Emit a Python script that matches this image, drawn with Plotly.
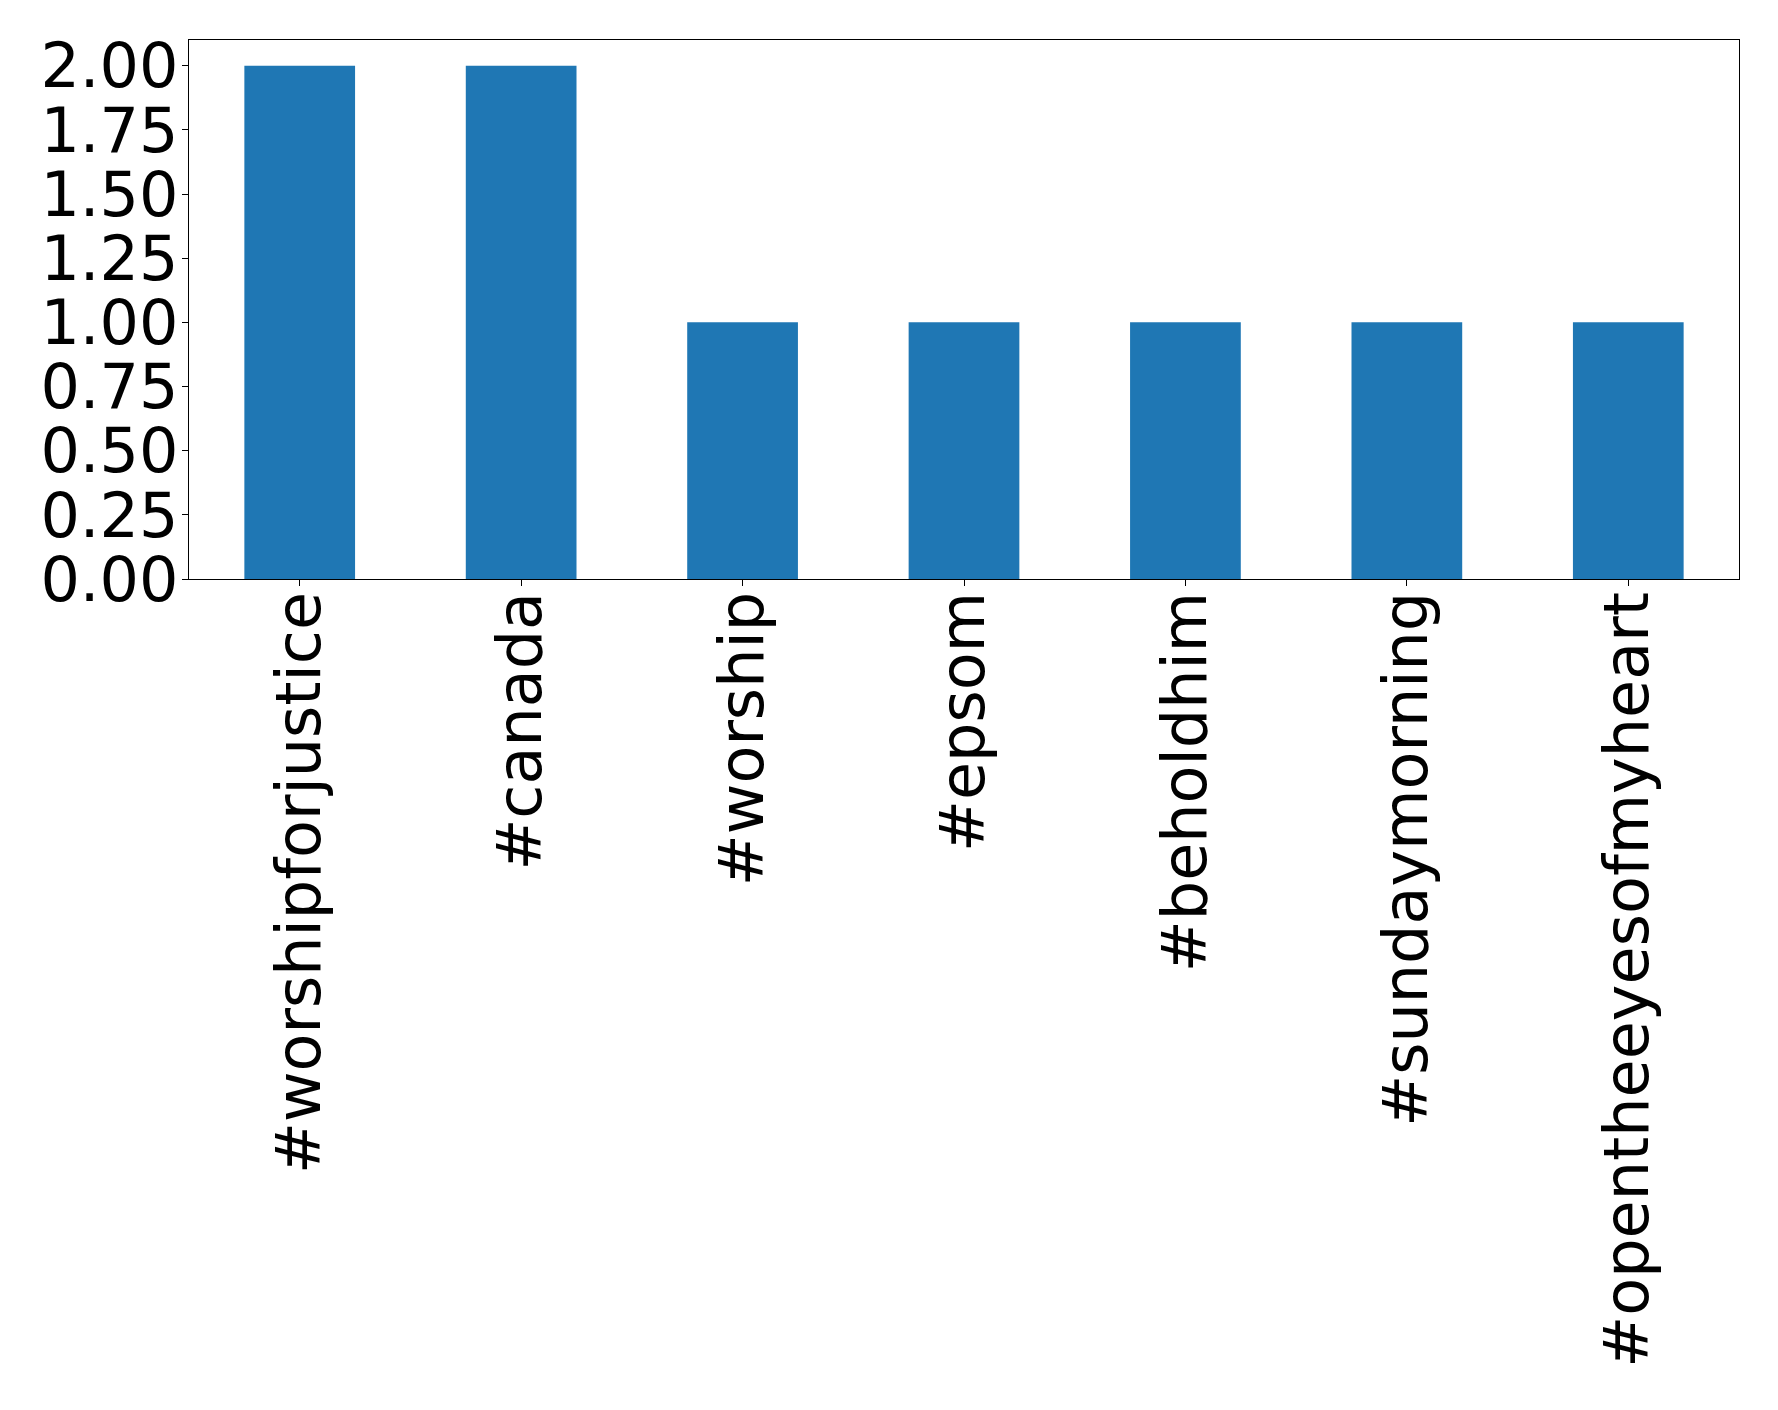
import plotly.graph_objects as go

categories = ["#worshipforjustice", "#canada", "#worship", "#epsom",
              "#beholdhim", "#sundaymorning", "#opentheeyesofmyheart"]
counts = [2, 2, 1, 1, 1, 1, 1]
y_ticks = [0, 0.25, 0.5, 0.75, 1.0, 1.25, 1.5, 1.75, 2.0]
y_tick_labels = ["0.00", "0.25", "0.50", "0.75", "1.00", "1.25", "1.50", "1.75", "2.00"]

fig = go.Figure(go.Bar(x=categories, y=counts, marker_color="#1f77b4",
                       marker_line_width=0, width=0.5))

W, H = 1778, 1410
fig.update_layout(
    width=W, height=H,
    margin=dict(l=181, r=47, t=32, b=839, autoexpand=False),
    plot_bgcolor="white", paper_bgcolor="white",
    font=dict(family="DejaVu Sans", size=62, color="black"),
    showlegend=False,
)
fig.update_xaxes(
    range=[-0.5, 6.5], tickangle=-90, showline=True, linecolor="black",
    linewidth=1.3, mirror=True, ticks="outside", ticklen=6, tickcolor="black",
    showgrid=False, tickfont=dict(size=62), automargin=False,
    ticklabelstandoff=-19,
)
fig.update_yaxes(
    range=[0, 2.1], tickvals=y_ticks, ticktext=y_tick_labels,
    showline=True, linecolor="black", linewidth=1.3, mirror=True,
    ticks="outside", ticklen=6, tickcolor="black", showgrid=False,
    zeroline=False, tickfont=dict(size=62), automargin=False,
    ticklabelstandoff=-9,
)
fig.write_html("out.html")
